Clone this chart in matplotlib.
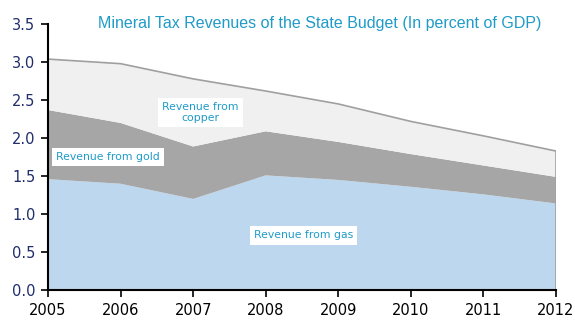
import numpy as np
import matplotlib.pyplot as plt

years = [2005, 2006, 2007, 2008, 2009, 2010, 2011, 2012]
gas = [1.46, 1.40, 1.20, 1.51, 1.45, 1.36, 1.26, 1.14]
gold = [0.91, 0.80, 0.69, 0.58, 0.50, 0.43, 0.38, 0.35]
copper = [0.67, 0.78, 0.89, 0.53, 0.50, 0.43, 0.39, 0.34]

fig = plt.figure(figsize=(5.75, 3.22), dpi=100)
ax = fig.add_axes([0.0835, 0.099, 0.8835, 0.826])

ax.stackplot(years, gas, gold, copper,
             colors=['#BDD7EE', '#A6A6A6', '#F0F0F0'], linewidth=0)
top = np.array(gas) + np.array(gold) + np.array(copper)
ax.plot(years, top, color='#A0A0A0', lw=1.2)
ax.plot([years[-1], years[-1]], [0, top[-1]], color='#A0A0A0', lw=1.2)

ax.set_xlim(2005, 2012)
ax.set_ylim(0, 3.5)
ax.set_xticks(years)
ax.set_yticks(np.arange(0, 3.51, 0.5))
ax.set_yticklabels([f'{v:.1f}' for v in np.arange(0, 3.51, 0.5)])
for s in ['top', 'right']:
    ax.spines[s].set_visible(False)
for s in ['left', 'bottom']:
    ax.spines[s].set_linewidth(1.5)
ax.tick_params(axis='x', direction='out', length=5, width=1.2, labelsize=10.5,
               colors='black', pad=4)
ax.tick_params(axis='y', direction='out', length=5, width=1.2, labelsize=10.5,
               labelcolor='#1F2D6B', pad=4)

ax.set_title('Mineral Tax Revenues of the State Budget (In percent of GDP)',
             fontsize=11.5, color='#1F9BC8', family='Liberation Sans', x=0.535, y=0.955)

box = dict(facecolor='white', edgecolor='none', pad=3)
ax.text(2007.1, 2.34, 'Revenue from\ncopper', fontsize=7.8, color='#1F9BC8',
        ha='center', va='center', bbox=box, linespacing=1.1)
ax.text(2005.82, 1.75, 'Revenue from gold', fontsize=7.8, color='#1F9BC8',
        ha='center', va='center', bbox=box)
ax.text(2008.52, 0.72, 'Revenue from gas', fontsize=7.8, color='#1F9BC8',
        ha='center', va='center', bbox=box)

plt.savefig('out.png')
plt.close()
